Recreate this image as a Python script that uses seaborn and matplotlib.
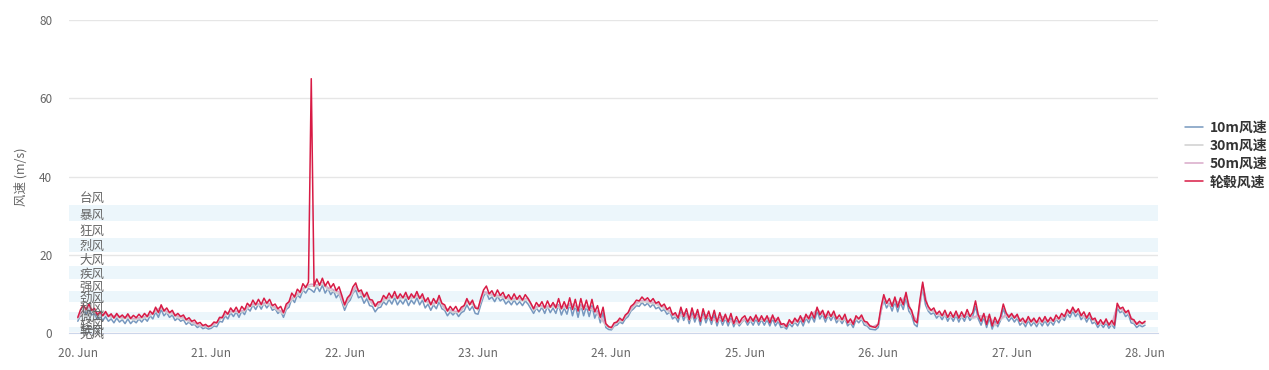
import pandas as pd
import matplotlib
matplotlib.use("Agg")
import matplotlib.pyplot as plt
import matplotlib.dates as mdates
import matplotlib.transforms as mtransforms
import seaborn as sns

# hub-height wind speed, every 30 minutes from 20 Jun 00:00 to 28 Jun 00:00
hub_speed = [
    # 20 Jun
    4.0, 6.0, 7.2, 6.0, 7.4, 5.8, 6.3, 4.6, 5.4, 4.4, 5.5, 4.2, 4.9, 3.8, 5.0, 4.0,
    4.6, 3.8, 4.9, 3.7, 4.5, 3.9, 4.8, 4.0, 5.0, 4.2, 5.6, 4.8, 6.6, 5.2, 7.2, 5.6,
    6.4, 5.2, 5.8, 4.4, 5.0, 4.2, 4.6, 3.4, 3.9, 3.0, 3.3, 2.4, 2.7, 1.9, 2.2, 1.6,
    # 21 Jun
    2.0, 2.8, 2.6, 4.0, 3.9, 5.6, 4.8, 6.4, 5.4, 6.6, 5.2, 6.8, 5.9, 7.6, 6.8, 8.4,
    7.2, 8.6, 7.3, 8.9, 7.6, 8.6, 7.0, 7.4, 6.2, 6.8, 5.2, 7.4, 8.0, 10.2, 9.2, 11.2,
    10.4, 12.6, 11.6, 13.0, 65.0, 12.0, 13.8, 12.2, 14.0, 12.0, 13.2, 11.6, 12.6, 10.8, 11.8, 9.6,
    # 22 Jun
    7.2, 9.0, 9.8, 11.8, 12.8, 10.6, 11.0, 9.2, 10.4, 8.6, 8.4, 6.8, 7.9, 8.0, 9.6, 8.8,
    10.2, 9.0, 10.6, 8.8, 10.0, 9.0, 10.4, 8.6, 10.0, 9.0, 10.6, 8.8, 10.0, 8.0, 9.0, 7.2,
    8.8, 7.6, 9.6, 7.6, 7.2, 5.6, 6.8, 5.8, 6.8, 5.4, 6.6, 7.0, 8.8, 7.2, 8.4, 6.4,
    # 23 Jun
    6.2, 8.8, 11.0, 12.0, 10.0, 10.8, 9.4, 11.0, 9.6, 10.4, 8.8, 9.8, 8.6, 10.0, 8.6, 9.6,
    8.4, 9.8, 8.8, 7.6, 6.2, 7.8, 6.8, 8.0, 6.4, 8.2, 6.6, 7.8, 6.4, 8.8, 6.2, 8.0,
    6.2, 9.0, 6.0, 8.6, 5.6, 8.8, 6.0, 8.4, 5.8, 8.6, 5.4, 7.0, 4.0, 6.6, 2.4, 1.6,
    # 24 Jun
    1.4, 2.6, 2.8, 3.8, 3.2, 4.6, 5.2, 6.8, 7.4, 8.4, 8.2, 9.2, 8.4, 9.0, 8.0, 8.8,
    7.6, 8.0, 6.8, 7.4, 6.0, 6.6, 4.6, 5.2, 3.8, 6.6, 4.2, 6.2, 3.4, 6.4, 3.8, 6.0,
    3.0, 6.2, 3.6, 5.6, 3.2, 5.8, 2.8, 5.2, 3.0, 4.8, 2.8, 5.0, 2.4, 4.2, 2.6, 3.8,
    # 25 Jun
    4.4, 2.8, 4.2, 3.0, 4.6, 2.9, 4.4, 3.0, 4.4, 2.6, 4.6, 2.8, 4.0, 2.2, 2.4, 1.6,
    3.4, 2.4, 3.8, 2.8, 4.4, 2.8, 4.8, 3.6, 5.4, 3.8, 6.6, 4.6, 5.8, 3.8, 5.6, 4.2,
    5.6, 3.6, 4.6, 3.4, 4.8, 2.6, 3.6, 2.2, 4.4, 3.6, 4.6, 3.0, 2.8, 1.8, 1.6, 1.4,
    # 26 Jun
    2.2, 6.6, 9.8, 7.6, 8.8, 6.8, 9.2, 6.6, 9.0, 7.2, 10.4, 6.8, 5.8, 3.2, 2.6, 8.4,
    13.0, 8.4, 6.8, 5.8, 6.4, 4.8, 5.6, 4.4, 5.8, 4.0, 5.4, 4.0, 5.6, 3.8, 5.4, 4.0,
    6.0, 4.2, 5.2, 8.2, 4.6, 3.0, 5.0, 2.2, 4.8, 1.8, 4.0, 2.4, 4.2, 7.4, 5.2, 4.0,
    # 27 Jun
    5.0, 3.8, 4.8, 3.0, 3.8, 2.6, 4.2, 2.8, 3.8, 2.6, 4.0, 2.8, 4.2, 2.8, 4.0, 3.0,
    4.6, 3.6, 5.0, 4.2, 6.0, 5.0, 6.6, 5.2, 6.2, 4.4, 5.4, 3.8, 5.2, 3.4, 3.8, 2.2,
    3.4, 2.2, 3.6, 2.0, 3.2, 2.0, 7.6, 6.2, 6.6, 5.2, 5.8, 3.6, 3.4, 2.2, 3.0, 2.4,
    # 28 Jun 00:00
    3.0,
]

# 10 m wind speed, every 30 minutes
speed_10m = [
    3.0, 4.6, 6.0, 4.8, 6.0, 4.6, 5.0, 3.4, 4.2, 3.2, 4.2, 3.0, 3.6, 2.6, 3.8, 2.8,
    3.4, 2.4, 3.6, 2.4, 3.2, 2.6, 3.6, 2.8, 3.8, 3.0, 4.4, 3.6, 5.4, 4.0, 6.0, 4.4,
    5.2, 4.0, 4.6, 3.2, 3.8, 3.0, 3.4, 2.2, 2.8, 2.0, 2.2, 1.4, 1.8, 1.1, 1.4, 1.0,
    1.2, 1.8, 1.6, 3.0, 2.8, 4.4, 3.6, 5.2, 4.2, 5.4, 4.0, 5.6, 4.7, 6.4, 5.6, 7.2,
    6.0, 7.4, 6.1, 7.6, 6.4, 7.4, 5.8, 6.2, 5.0, 5.6, 4.0, 6.0, 6.6, 8.8, 7.8, 9.8,
    9.0, 11.0, 10.2, 11.4, 11.0, 10.4, 12.0, 10.6, 12.2, 10.2, 11.4, 9.8, 10.8, 9.0, 10.0, 8.0,
    5.8, 7.6, 8.4, 10.2, 11.0, 9.0, 9.4, 7.6, 8.8, 7.0, 6.8, 5.4, 6.4, 6.6, 8.0, 7.2,
    8.6, 7.4, 9.0, 7.2, 8.4, 7.4, 8.8, 7.0, 8.4, 7.4, 9.0, 7.2, 8.4, 6.4, 7.4, 5.8,
    7.2, 6.2, 8.0, 6.2, 5.8, 4.4, 5.4, 4.6, 5.4, 4.2, 5.2, 5.6, 7.2, 5.8, 6.8, 5.0,
    4.8, 7.2, 9.4, 10.4, 8.6, 9.2, 8.0, 9.4, 8.2, 8.8, 7.4, 8.2, 7.2, 8.4, 7.2, 8.0,
    7.0, 8.2, 7.4, 6.2, 5.0, 6.4, 5.4, 6.6, 5.0, 6.8, 5.2, 6.4, 5.0, 7.2, 4.6, 6.4,
    4.8, 7.4, 4.4, 7.0, 4.0, 7.2, 4.4, 6.8, 4.2, 7.0, 3.8, 5.6, 2.6, 5.2, 1.4, 0.9,
    0.8, 1.8, 2.0, 2.8, 2.4, 3.6, 4.2, 5.6, 6.2, 7.0, 6.8, 7.8, 7.0, 7.6, 6.6, 7.4,
    6.2, 6.6, 5.6, 6.0, 4.8, 5.4, 3.6, 4.2, 2.8, 5.4, 3.2, 5.0, 2.4, 5.2, 2.8, 4.8,
    2.0, 5.0, 2.6, 4.4, 2.2, 4.6, 1.8, 4.0, 2.0, 3.8, 1.8, 3.8, 1.6, 3.2, 1.8, 2.8,
    3.4, 2.0, 3.2, 2.0, 3.6, 2.0, 3.4, 2.0, 3.4, 1.8, 3.6, 1.8, 3.0, 1.4, 1.6, 1.0,
    2.4, 1.6, 2.8, 1.8, 3.4, 1.8, 3.8, 2.6, 4.4, 2.8, 5.6, 3.6, 4.8, 2.8, 4.6, 3.2,
    4.6, 2.6, 3.6, 2.4, 3.8, 1.8, 2.6, 1.4, 3.4, 2.6, 3.6, 2.0, 1.8, 1.0, 0.9, 0.8,
    1.4, 5.6, 8.4, 6.4, 7.6, 5.6, 8.0, 5.4, 7.8, 6.0, 9.0, 5.6, 4.6, 2.2, 1.6, 7.2,
    11.6, 7.2, 5.6, 4.8, 5.2, 3.8, 4.6, 3.4, 4.8, 3.0, 4.4, 3.0, 4.6, 2.8, 4.4, 3.0,
    4.8, 3.2, 4.2, 6.8, 3.6, 2.0, 4.0, 1.4, 3.8, 1.0, 3.0, 1.6, 3.2, 6.2, 4.2, 3.0,
    4.0, 2.8, 3.8, 2.0, 2.8, 1.6, 3.2, 1.8, 2.8, 1.6, 3.0, 1.8, 3.2, 1.8, 3.0, 2.0,
    3.6, 2.6, 4.0, 3.2, 5.0, 4.0, 5.6, 4.2, 5.2, 3.4, 4.4, 2.8, 4.2, 2.4, 2.8, 1.4,
    2.4, 1.4, 2.6, 1.2, 2.2, 1.2, 6.4, 5.2, 5.6, 4.2, 4.8, 2.6, 2.4, 1.4, 2.0, 1.6,
    2.0,
]

# hourly speeds at 30 m and 50 m
speed_30m = [
    3.6, 5.6, 6.3, 5.2, 4.3, 4.7, 4.0, 4.1, 3.6, 3.9, 3.3, 3.6, 3.8, 4.4, 5.4, 6.2, 5.1, 4.8, 3.9, 3.6, 2.9, 2.3, 1.8, 1.6,
    1.6, 2.6, 4.0, 4.9, 5.4, 5.2, 5.6, 6.8, 7.2, 7.0, 7.5, 6.7, 5.7, 4.8, 7.7, 9.1, 10.1, 11.6, 12.0, 11.8, 12.5, 11.1, 10.6, 10.0,
    6.7, 9.1, 11.6, 9.7, 9.2, 7.3, 6.8, 8.3, 8.7, 9.2, 8.7, 9.0, 8.8, 9.2, 8.7, 7.6, 7.2, 8.3, 6.0, 5.5, 5.2, 5.6, 7.8, 7.3,
    5.8, 10.2, 9.7, 9.3, 9.2, 8.8, 8.3, 8.6, 8.2, 8.5, 5.8, 6.8, 6.3, 6.5, 6.8, 6.2, 6.7, 7.0, 6.2, 6.7, 6.2, 5.7, 3.8, 1.9,
    1.1, 2.7, 3.1, 4.9, 6.8, 7.8, 8.0, 7.6, 7.3, 6.6, 5.8, 4.6, 3.9, 4.8, 3.3, 4.6, 3.3, 4.4, 3.6, 2.9, 3.9, 3.2, 2.5, 2.3,
    3.4, 3.0, 3.7, 3.2, 3.4, 3.6, 3.2, 1.5, 2.5, 2.7, 3.4, 3.7, 4.4, 5.7, 4.6, 4.2, 4.4, 3.2, 3.4, 2.3, 3.4, 3.6, 2.0, 1.3,
    2.0, 8.8, 6.9, 7.8, 7.4, 9.3, 4.9, 2.6, 12.1, 5.9, 5.4, 4.4, 4.4, 3.9, 4.4, 3.9, 4.6, 3.7, 4.2, 3.9, 3.9, 1.8, 3.4, 4.4,
    4.2, 3.9, 2.6, 3.2, 2.9, 2.6, 3.2, 2.9, 3.4, 3.7, 4.9, 5.7, 5.2, 3.9, 4.2, 2.9, 2.2, 2.6, 1.9, 6.7, 5.6, 4.9, 2.6, 2.2,
    2.5,
]
speed_50m = [
    3.8, 6.0, 6.6, 5.6, 4.7, 5.0, 4.3, 4.5, 4.0, 4.3, 3.7, 3.9, 4.2, 4.7, 5.8, 6.6, 5.5, 5.2, 4.3, 4.0, 3.2, 2.6, 2.0, 1.8,
    1.8, 2.8, 4.3, 5.2, 5.7, 5.5, 5.9, 7.2, 7.6, 7.4, 7.9, 7.1, 6.1, 5.2, 8.1, 9.6, 10.6, 12.0, 12.5, 12.3, 13.0, 11.6, 11.1, 10.5,
    7.1, 9.6, 12.0, 10.1, 9.6, 7.7, 7.2, 8.7, 9.1, 9.6, 9.1, 9.4, 9.2, 9.6, 9.1, 8.0, 7.6, 8.7, 6.4, 5.9, 5.5, 5.9, 8.2, 7.7,
    6.2, 10.6, 10.1, 9.7, 9.6, 9.2, 8.7, 9.0, 8.6, 8.9, 6.2, 7.2, 6.7, 6.9, 7.2, 6.6, 7.1, 7.4, 6.6, 7.1, 6.6, 6.1, 4.2, 2.2,
    1.3, 3.0, 3.4, 5.2, 7.2, 8.2, 8.4, 8.0, 7.7, 7.0, 6.2, 4.9, 4.2, 5.2, 3.7, 4.9, 3.7, 4.7, 3.9, 3.2, 4.2, 3.5, 2.8, 2.6,
    3.7, 3.3, 4.0, 3.5, 3.7, 3.9, 3.5, 1.8, 2.8, 3.0, 3.7, 4.0, 4.7, 6.0, 4.9, 4.5, 4.7, 3.5, 3.7, 2.6, 3.7, 3.9, 2.3, 1.6,
    2.3, 9.2, 7.2, 8.2, 7.7, 9.7, 5.2, 3.0, 12.5, 6.2, 5.7, 4.7, 4.7, 4.2, 4.7, 4.2, 4.9, 4.0, 4.5, 4.2, 4.2, 2.2, 3.7, 4.7,
    4.5, 4.2, 2.9, 3.5, 3.2, 2.9, 3.5, 3.2, 3.7, 4.0, 5.2, 6.0, 5.5, 4.2, 4.5, 3.2, 2.5, 2.9, 2.2, 7.0, 5.9, 5.2, 2.9, 2.5,
    2.8,
]

series_names = ["10m风速", "30m风速", "50m风速", "轮毂风速"]
series_colors = ["#7798BF", "#CFCFCF", "#D9A9C9", "#D81B45"]

# Beaufort scale bands (m/s)
band_names = ["无风", "软风", "轻风", "微风", "和风", "劲风", "强风",
              "疾风", "大风", "烈风", "狂风", "暴风", "台风"]
band_lows = [0.0, 0.3, 1.6, 3.4, 5.5, 8.0, 10.8, 13.9, 17.2, 20.8, 24.5, 28.5, 32.7]
band_highs = [0.2, 1.5, 3.3, 5.4, 7.9, 10.7, 13.8, 17.1, 20.7, 24.4, 28.4, 32.6, 37.0]

y_ticks = [0, 20, 40, 60, 80]

start = "2024-06-20 00:00"
frames = [
    pd.DataFrame({"time": pd.date_range(start, periods=len(speed_10m), freq="30min"),
                  "speed": speed_10m}),
    pd.DataFrame({"time": pd.date_range(start, periods=len(speed_30m), freq="h"),
                  "speed": speed_30m}),
    pd.DataFrame({"time": pd.date_range(start, periods=len(speed_50m), freq="h"),
                  "speed": speed_50m}),
    pd.DataFrame({"time": pd.date_range(start, periods=len(hub_speed), freq="30min"),
                  "speed": hub_speed}),
]

sns.set_style("white")
plt.rcParams["font.family"] = ["Noto Sans CJK SC", "DejaVu Sans"]

fig = plt.figure(figsize=(12.69, 3.70), dpi=100)
ax = fig.add_axes([69 / 1269, 1 - 333 / 370, (1158 - 69) / 1269, (333 - 20) / 370])

# plot bands, every other one shaded
for i, (lo, hi) in enumerate(zip(band_lows, band_highs)):
    if i % 2 == 1:
        ax.axhspan(lo, hi, color="#ECF6FB", lw=0, zorder=0)

for y in y_ticks:
    ax.axhline(y, color="#E6E6E6", lw=1, zorder=0.5)

for df, name, color in zip(frames, series_names, series_colors):
    sns.lineplot(data=df, x="time", y="speed", ax=ax, color=color, lw=1.1,
                 label=name, zorder=3)

trans = mtransforms.blended_transform_factory(ax.transAxes, ax.transData)
for name, lo, hi in zip(band_names, band_lows, band_highs):
    ax.text(0.0095, (lo + hi) / 2 - 0.5, name, transform=trans, ha="left", va="center",
            fontsize=9, color="#666666", zorder=4)

ax.set_ylim(0, 80)
ax.set_xlim(pd.Timestamp("2024-06-19 22:25"), pd.Timestamp("2024-06-28 02:20"))
ax.set_yticks(y_ticks)
ax.set_xticks(pd.date_range("2024-06-20", "2024-06-28", freq="D"))
ax.xaxis.set_major_formatter(mdates.DateFormatter("%d. %b"))
ax.tick_params(axis="x", colors="#CCD6EB", length=9, width=1, labelcolor="#666666",
               labelsize=8.5, pad=1)
ax.tick_params(axis="y", length=0, labelcolor="#666666", labelsize=8.5, pad=12)

for side in ["top", "right", "left"]:
    ax.spines[side].set_visible(False)
ax.spines["bottom"].set_color("#CCD6EB")

ax.set_xlabel("")
ax.set_ylabel("风速 (m/s)", color="#666666", fontsize=9, labelpad=8)

leg = ax.legend(loc="center left", bbox_to_anchor=(1172 / 1269, 1 - 155 / 370),
                bbox_transform=fig.transFigure, frameon=False, fontsize=10,
                handlelength=1.3, handletextpad=0.5, labelspacing=0.3)
for text in leg.get_texts():
    text.set_color("#333333")
    text.set_fontweight("bold")

fig.savefig("out.png", dpi=100)
